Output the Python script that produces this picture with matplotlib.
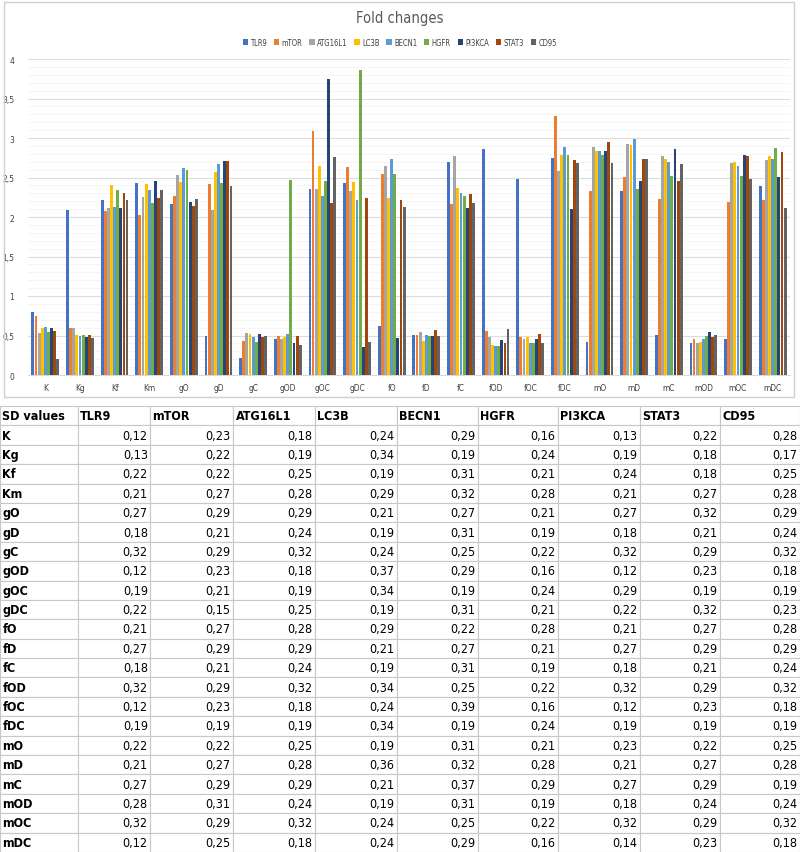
import matplotlib
matplotlib.use("Agg")
import matplotlib.pyplot as plt
import numpy as np
from matplotlib.patches import Rectangle

groups = ['K', 'Kg', 'Kf', 'Km', 'gO', 'gD', 'gC', 'gOD', 'gOC', 'gDC', 'fO',
          'fD', 'fC', 'fOD', 'fOC', 'fDC', 'mO', 'mD', 'mC', 'mOD', 'mOC', 'mDC']
genes = ['TLR9', 'mTOR', 'ATG16L1', 'LC3B', 'BECN1', 'HGFR', 'PI3KCA', 'STAT3', 'CD95']
colors = ['#4472C4', '#ED7D31', '#A5A5A5', '#FFC000', '#5B9BD5',
          '#70AD47', '#264478', '#9E480E', '#636363']

# fold changes, one list per gene
tlr9 = [0.80, 2.09, 2.21, 2.43, 2.17, 0.49, 0.22, 0.46, 2.35, 2.43, 0.62,
        0.51, 2.69, 2.86, 2.48, 2.75, 0.42, 2.33, 0.51, 0.41, 0.45, 2.39]
mtor = [0.75, 0.60, 2.08, 2.03, 2.27, 2.42, 0.43, 0.49, 3.09, 2.63, 2.55,
        0.51, 2.16, 0.56, 0.48, 3.28, 2.33, 2.51, 2.23, 0.46, 2.19, 2.22]
atg16l1 = [0.53, 0.60, 2.11, 2.25, 2.53, 2.09, 0.53, 0.46, 2.35, 2.33, 2.64,
           0.54, 2.77, 0.48, 0.46, 2.58, 2.88, 2.93, 2.77, 0.41, 2.68, 2.72]
lc3b = [0.60, 0.51, 2.40, 2.42, 2.44, 2.57, 0.52, 0.48, 2.65, 2.44, 2.24,
        0.43, 2.37, 0.38, 0.48, 2.78, 2.84, 2.91, 2.73, 0.42, 2.70, 2.77]
becn1 = [0.61, 0.49, 2.13, 2.34, 2.62, 2.67, 0.48, 0.52, 2.27, 2.22, 2.74,
         0.51, 2.30, 0.37, 0.40, 2.88, 2.83, 2.99, 2.69, 0.46, 2.64, 2.73]
hgfr = [0.54, 0.51, 2.34, 2.18, 2.59, 2.43, 0.42, 2.47, 2.45, 3.86, 2.54,
        0.50, 2.27, 0.37, 0.41, 2.78, 2.79, 2.35, 2.52, 0.50, 2.52, 2.87]
pi3kca = [0.60, 0.48, 2.11, 2.45, 2.19, 2.71, 0.52, 0.40, 3.75, 0.36, 0.47,
          0.50, 2.11, 0.44, 0.46, 2.10, 2.84, 2.46, 2.86, 0.55, 2.78, 2.51]
stat3 = [0.56, 0.51, 2.30, 2.24, 2.14, 2.71, 0.48, 0.49, 2.18, 2.24, 2.22,
         0.57, 2.29, 0.41, 0.52, 2.72, 2.95, 2.74, 2.45, 0.48, 2.77, 2.82]
cd95 = [0.20, 0.47, 2.21, 2.34, 2.23, 2.39, 0.49, 0.38, 2.76, 0.42, 2.13,
        0.49, 2.18, 0.58, 0.41, 2.68, 2.68, 2.73, 2.67, 0.51, 2.48, 2.12]
fold = [tlr9, mtor, atg16l1, lc3b, becn1, hgfr, pi3kca, stat3, cd95]

# SD table, one row per group
sd = [
    [0.12, 0.23, 0.18, 0.24, 0.29, 0.16, 0.13, 0.22, 0.28],
    [0.13, 0.22, 0.19, 0.34, 0.19, 0.24, 0.19, 0.18, 0.17],
    [0.22, 0.22, 0.25, 0.19, 0.31, 0.21, 0.24, 0.18, 0.25],
    [0.21, 0.27, 0.28, 0.29, 0.32, 0.28, 0.21, 0.27, 0.28],
    [0.27, 0.29, 0.29, 0.21, 0.27, 0.21, 0.27, 0.32, 0.29],
    [0.18, 0.21, 0.24, 0.19, 0.31, 0.19, 0.18, 0.21, 0.24],
    [0.32, 0.29, 0.32, 0.24, 0.25, 0.22, 0.32, 0.29, 0.32],
    [0.12, 0.23, 0.18, 0.37, 0.29, 0.16, 0.12, 0.23, 0.18],
    [0.19, 0.21, 0.19, 0.34, 0.19, 0.24, 0.29, 0.19, 0.19],
    [0.22, 0.15, 0.25, 0.19, 0.31, 0.21, 0.22, 0.32, 0.23],
    [0.21, 0.27, 0.28, 0.29, 0.22, 0.28, 0.21, 0.27, 0.28],
    [0.27, 0.29, 0.29, 0.21, 0.27, 0.21, 0.27, 0.29, 0.29],
    [0.18, 0.21, 0.24, 0.19, 0.31, 0.19, 0.18, 0.21, 0.24],
    [0.32, 0.29, 0.32, 0.34, 0.25, 0.22, 0.32, 0.29, 0.32],
    [0.12, 0.23, 0.18, 0.24, 0.39, 0.16, 0.12, 0.23, 0.18],
    [0.19, 0.19, 0.19, 0.34, 0.19, 0.24, 0.19, 0.19, 0.19],
    [0.22, 0.22, 0.25, 0.19, 0.31, 0.21, 0.23, 0.22, 0.25],
    [0.21, 0.27, 0.28, 0.36, 0.32, 0.28, 0.21, 0.27, 0.28],
    [0.27, 0.29, 0.29, 0.21, 0.37, 0.29, 0.27, 0.29, 0.19],
    [0.28, 0.31, 0.24, 0.19, 0.31, 0.19, 0.18, 0.24, 0.24],
    [0.32, 0.29, 0.32, 0.24, 0.25, 0.22, 0.32, 0.29, 0.32],
    [0.12, 0.25, 0.18, 0.24, 0.29, 0.16, 0.14, 0.23, 0.18],
]

plt.rcParams['font.family'] = ['DejaVu Sans']
plt.rcParams['font.stretch'] = 'condensed'
W, H = 800, 853
fig = plt.figure(figsize=(W / 100, H / 100), dpi=100)

# chart frame
fig.patches.append(Rectangle((4 / W, 1 - 398 / H), 790 / W, 395 / H,
                             transform=fig.transFigure, fill=False,
                             edgecolor='#d0d0d0', linewidth=1))

ax = fig.add_axes([28 / W, 1 - 376 / H, 762 / W, 316 / H])
x = np.arange(len(groups))
bw = 0.81 / len(genes)
for i, (name, vals, c) in enumerate(zip(genes, fold, colors)):
    ax.bar(x - 0.405 + bw * (i + 0.5), vals, width=bw * 0.92, color=c,
           label=name, zorder=3)

ax.set_xlim(-0.5, len(groups) - 0.5)
ax.set_ylim(0, 4)
ax.set_yticks(np.arange(0, 4.01, 0.5))
ax.set_yticklabels([('%g' % v).replace('.', ',') for v in np.arange(0, 4.01, 0.5)])
ax.set_yticks(np.arange(0, 4.01, 0.1), minor=True)
ax.set_xticks(x)
ax.set_xticklabels(groups)
ax.tick_params(axis='both', which='both', length=0, labelsize=6, colors='#404040')
ax.tick_params(axis='y', pad=10)
ax.tick_params(axis='x', pad=6)
ax.grid(axis='y', which='major', color='#dcdcdc', linewidth=0.8, zorder=0)
ax.grid(axis='y', which='minor', color='#f4f4f4', linewidth=0.6, zorder=0)
for s in ['top', 'right', 'left']:
    ax.spines[s].set_visible(False)
ax.spines['bottom'].set_color('#d9d9d9')

fig.text(0.5, 1 - 18 / H, 'Fold changes', ha='center', va='center',
         fontsize=10.5, color='#595959')
fig.legend(loc='center', bbox_to_anchor=(0.5, 1 - 43 / H), ncol=9,
           frameon=False, fontsize=5.5, handlelength=0.7, handleheight=0.7,
           handletextpad=0.3, columnspacing=0.9, labelcolor='#404040')

# SD table
tab_ax = fig.add_axes([0, 0, 1, 446 / H])
tab_ax.axis('off')
header = ['SD values'] + genes
rows = [[g] + [('%.2f' % v).replace('.', ',') for v in r] for g, r in zip(groups, sd)]
col_w = np.array([78, 72, 83, 82, 82, 81, 80, 82, 80, 80], dtype=float)
tbl = tab_ax.table(cellText=[header] + rows, colWidths=list(col_w / col_w.sum()),
                   bbox=[0, 0, 1, 1], cellLoc='right')
tbl.auto_set_font_size(False)
for (r, c), cell in tbl.get_celld().items():
    cell.set_edgecolor('#c8c8c8')
    cell.set_linewidth(0.8)
    cell.PAD = 0.03
    cell.get_text().set_fontsize(9)
    if r == 0 or c == 0:
        cell._loc = 'left'
        cell.get_text().set_ha('left')
        cell.get_text().set_fontweight('bold')

fig.savefig('out.png', dpi=100)
